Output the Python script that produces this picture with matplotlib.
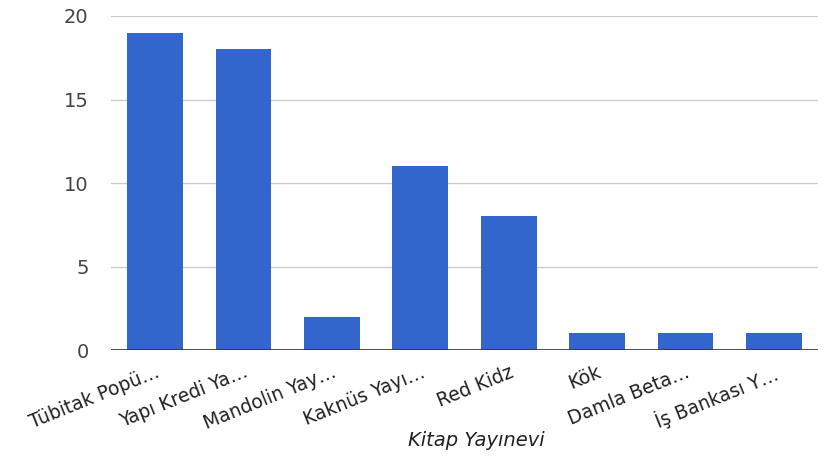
import numpy as np
import matplotlib.pyplot as plt

publishers = ['Tübitak Popü…', 'Yapı Kredi Ya…', 'Mandolin Yay…', 'Kaknüs Yayı…',
              'Red Kidz', 'Kök', 'Damla Beta…', 'İş Bankası Y…']
counts = [19, 18, 2, 11, 8, 1, 1, 1]
yticks = [0, 5, 10, 15, 20]

plt.rcParams['font.family'] = ['DejaVu Sans']

fig = plt.figure(figsize=(8.25, 4.57), dpi=100)
ax = fig.add_axes([0.1345, 0.234, 0.857, 0.731])

x = np.arange(len(publishers))
ax.bar(x, counts, width=0.63, color='#3366cc', zorder=2)

ax.set_xlim(-0.5, len(publishers) - 0.5)
ax.set_ylim(0, 20)
ax.set_yticks(yticks)
ax.set_yticklabels([str(t) for t in yticks], fontsize=14, color='#444444')
ax.yaxis.grid(True, color='#cccccc', linewidth=1, zorder=0)
ax.axhline(0, color='#333333', linewidth=1.2, zorder=3)

ax.set_xticks(x)
ax.set_xticklabels(publishers, rotation=22, ha='right', rotation_mode='anchor',
                   fontsize=13.5, color='#222222')
ax.tick_params(axis='both', length=0)
ax.tick_params(axis='y', pad=16)
ax.tick_params(axis='x', pad=9)

for s in ax.spines.values():
    s.set_visible(False)

fig.text(476 / 825, 1 - 440 / 457, 'Kitap Yayınevi', fontsize=14, style='italic',
         color='#222222', ha='center', va='center')

fig.savefig('out.png')
